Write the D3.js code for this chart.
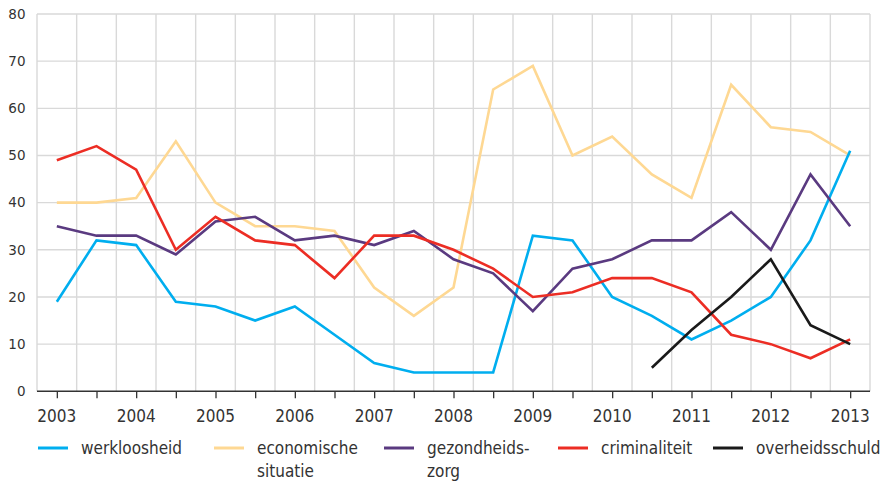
<!DOCTYPE html>
<html>
<head>
<meta charset="utf-8">
<script src="https://cdn.jsdelivr.net/npm/d3@7"></script>
<style>
  html, body { margin: 0; padding: 0; background: #fff; }
  svg { display: block; }
  text { font-family: "DejaVu Sans Condensed", "DejaVu Sans", sans-serif; font-stretch: condensed; fill: #333; }
  text.ylab { font-family: "DejaVu Sans", sans-serif; font-stretch: normal; }
</style>
</head>
<body>
<svg id="chart" width="882" height="482"></svg>
<script>
const periods = [2003, 2003.5, 2004, 2004.5, 2005, 2005.5, 2006, 2006.5, 2007, 2007.5, 2008, 2008.5, 2009, 2009.5, 2010, 2010.5, 2011, 2011.5, 2012, 2012.5, 2013];
const yearLabels = ["2003","2004","2005","2006","2007","2008","2009","2010","2011","2012","2013"];
const yTicks = [0, 10, 20, 30, 40, 50, 60, 70, 80];

const werkloosheid = [19, 32, 31, 19, 18, 15, 18, 12, 6, 4, 4, 4, 33, 32, 20, 16, 11, 15, 20, 32, 51];
const economischeSituatie = [40, 40, 41, 53, 40, 35, 35, 34, 22, 16, 22, 64, 69, 50, 54, 46, 41, 65, 56, 55, 50];
const gezondheidszorg = [35, 33, 33, 29, 36, 37, 32, 33, 31, 34, 28, 25, 17, 26, 28, 32, 32, 38, 30, 46, 35];
const criminaliteit = [49, 52, 47, 30, 37, 32, 31, 24, 33, 33, 30, 26, 20, 21, 24, 24, 21, 12, 10, 7, 11];
const overheidsschuld = [null, null, null, null, null, null, null, null, null, null, null, null, null, null, null, 5, 13, 20, 28, 14, 10];

const seriesNames = ["werkloosheid", "economische\nsituatie", "gezondheids-\nzorg", "criminaliteit", "overheidsschuld"];
const seriesColors = ["#00aeef", "#fed893", "#5a3a80", "#ec2d24", "#1a1a1a"];
const seriesValues = [werkloosheid, economischeSituatie, gezondheidszorg, criminaliteit, overheidsschuld];
const drawOrder = [1, 0, 2, 3, 4];

const svg = d3.select("#chart");
const mLeft = 37, mRight = 870, mTop = 14, mBottom = 391.3;

const x = d3.scaleLinear().domain([2002.75, 2013.25]).range([mLeft, mRight]);
const y = d3.scaleLinear().domain([0, 80]).range([mBottom, mTop]);

// grid
const grid = svg.append("g");
const gridX = d3.range(2002.75, 2013.26, 0.5);
grid.selectAll("line.v").data(gridX).enter().append("line")
  .attr("x1", d => x(d)).attr("x2", d => x(d))
  .attr("y1", y(80)).attr("y2", y(0))
  .attr("stroke", "#d9d9d9").attr("stroke-width", 1.4);
grid.selectAll("line.h").data(yTicks.filter(d => d > 0)).enter().append("line")
  .attr("x1", mLeft).attr("x2", mRight)
  .attr("y1", d => y(d)).attr("y2", d => y(d))
  .attr("stroke", "#d9d9d9").attr("stroke-width", 1.4);

// y labels
svg.append("g").selectAll("text").data(yTicks).enter().append("text")
  .attr("class", "ylab")
  .attr("x", 25.5).attr("y", d => y(d)).attr("dy", "0.35em")
  .attr("text-anchor", "end").attr("font-size", 13.5)
  .text(d => d);

// x axis
const xAxis = d3.axisBottom(x).tickValues(periods).tickSize(7).tickFormat("");
const gx = svg.append("g").attr("transform", `translate(0,${mBottom})`).call(xAxis);
gx.select(".domain").attr("stroke", "#333").attr("stroke-width", 1.6).attr("d", `M${mLeft},0H${mRight}`);
gx.selectAll(".tick line").attr("stroke", "#333").attr("stroke-width", 1.3);

svg.append("g").selectAll("text").data(yearLabels).enter().append("text")
  .attr("x", d => x(+d)).attr("y", 416).attr("dy", "0.35em")
  .attr("text-anchor", "middle").attr("font-size", 17)
  .text(d => d);

// lines
const line = d3.line()
  .defined(d => d[1] !== null)
  .x(d => x(d[0])).y(d => y(d[1]));
drawOrder.forEach(i => {
  const pts = periods.map((p, k) => [p, seriesValues[i][k]]);
  svg.append("path").datum(pts)
    .attr("fill", "none").attr("stroke", seriesColors[i])
    .attr("stroke-width", 2.6).attr("stroke-linejoin", "miter")
    .attr("d", line);
});

// legend
const legendX = [38, 214, 384, 558, 713];
const leg = svg.append("g");
seriesNames.forEach((name, i) => {
  const g = leg.append("g").attr("transform", `translate(${legendX[i]},448)`);
  g.append("line").attr("x1", 0).attr("x2", 30).attr("y1", 0).attr("y2", 0)
    .attr("stroke", seriesColors[i]).attr("stroke-width", 3);
  const t = g.append("text").attr("x", 43).attr("y", 0).attr("font-size", 17);
  name.split("\n").forEach((ln, j) => {
    t.append("tspan").attr("x", 43).attr("dy", j === 0 ? "0.35em" : 23).text(ln);
  });
});
</script>
</body>
</html>
